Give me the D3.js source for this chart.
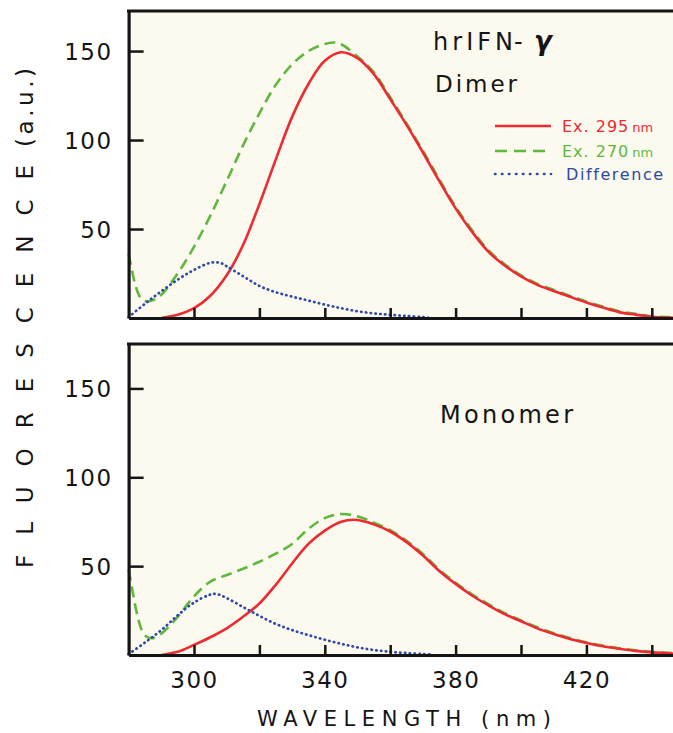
<!DOCTYPE html>
<html><head><meta charset="utf-8">
<script src="https://cdn.jsdelivr.net/npm/d3@7"></script>
<style>html,body{margin:0;padding:0;background:#fff;}svg{display:block;}</style>
</head><body>
<script>
// ---- data (wavelength nm, fluorescence a.u.) ----
const xTicks = [300, 320, 340, 360, 380, 400, 420, 440];
const xTickLabels = [300, 340, 380, 420];
const yTicks = [50, 100, 150];

const dimerEx295 = [[290,0],[295,1.8],[300,5.5],[305,12.5],[310,24],[315,41],[320,64],[325,89],[330,113],[335,131.5],[340,144.5],[345,149.3],[350,146],[355,137],[360,123],[365,108.5],[370,93],[375,77],[380,61.6],[385,48.5],[390,37.3],[395,29.5],[400,23.4],[405,18.6],[410,15.2],[415,11.9],[420,8.7],[425,5.9],[430,3.3],[435,1.9],[440,0.7],[445,0.2],[450,0]];
const dimerEx270 = [[280,36],[281,27],[282,19],[283,13.5],[284,10.5],[285,9.5],[286,9.3],[288,10.5],[290,13],[295,25],[300,40],[305,57.5],[310,77],[315,97],[320,115],[325,131],[330,142.5],[335,150],[340,154],[343,154.8],[345,153.8],[350,147],[355,138],[360,124],[365,109.3],[370,94],[375,78],[380,62.5],[385,49.4],[390,38.1],[395,30.2],[400,24],[405,19.2],[410,15.8],[415,12.4],[420,9.2],[425,6.4],[430,3.8],[435,2.3],[440,1.0],[445,0.5],[450,0.3]];
const dimerDiff = [[280,0.5],[285,8],[290,15],[295,21.5],[300,27],[305,31],[308,31],[310,29],[315,23.5],[320,18],[325,14.5],[330,12],[335,9.8],[340,7.5],[345,5.5],[350,3.8],[355,2.6],[360,1.8],[365,1.1],[370,0.5],[372,0]];

const monoEx295 = [[290,0],[295,1.8],[300,5.7],[305,10],[310,15],[315,21.5],[320,29],[325,39.5],[330,51.5],[335,62.5],[340,70],[345,75],[350,76],[355,73.5],[360,69.5],[365,63.5],[370,56],[375,47.3],[380,40],[385,33.5],[390,28],[395,23],[400,19],[405,15],[410,11.8],[415,9],[420,6.8],[425,4.9],[430,3.5],[435,2.3],[440,1.5],[445,1],[450,0.6]];
const monoEx270 = [[280,48],[281,38],[282,28],[283,20],[284,14],[285,11],[287,9.4],[290,12],[295,21.5],[300,33],[305,41.3],[310,45],[315,48.5],[320,52.5],[325,57],[330,62.5],[335,71],[340,77],[345,79.3],[350,78],[355,74.5],[360,70.2],[365,64.2],[370,56.8],[375,48],[380,40.7],[385,34.2],[390,28.6],[395,23.6],[400,19.5],[405,15.6],[410,12.3],[415,9.5],[420,7.2],[425,5.3],[430,3.8],[435,2.6],[440,1.8],[445,1.2],[450,0.8]];
const monoDiff = [[280,0.5],[285,7],[290,14],[295,22.3],[300,29.5],[305,34],[307,34.3],[310,32],[315,27],[320,22],[325,17.5],[330,14],[335,11.2],[340,8.6],[345,6.3],[350,4.3],[355,2.8],[360,1.8],[365,1.1],[370,0.6],[372,0.4]];

const legendLabels = ["Ex. 295", "Ex. 270", "Difference"];
const legendUnits = ["nm", "nm", ""];

// ---- drawing ----
const W = 673, H = 733;
const FONT = "DejaVu Sans";
const RED = "#ec2a30", GREEN = "#5fb83e", BLUE = "#2d4aa6", BG = "#fcf9ef", INK = "#151515";

const svg = d3.select("body").append("svg").attr("width", W).attr("height", H);

const x = d3.scaleLinear().domain([280, 450]).range([128.6, 684.5]);

const panels = [
  {top: 11, bottom: 318, ymax: 172.5, series: [dimerEx270, dimerEx295, dimerDiff], labels: false},
  {top: 344, bottom: 655, ymax: 175, series: [monoEx270, monoEx295, monoDiff], labels: true}
];

const styles = [
  {color: GREEN, width: 2.6, dash: "11,6", cap: "butt"},
  {color: RED, width: 2.6, dash: null, cap: "butt"},
  {color: BLUE, width: 2.7, dash: "0.4,4.4", cap: "round"}
];

panels.forEach(p => {
  const y = d3.scaleLinear().domain([0, p.ymax]).range([p.bottom, p.top]);
  const g = svg.append("g");
  g.append("rect").attr("x", 128).attr("y", p.top).attr("width", W - 128).attr("height", p.bottom - p.top).attr("fill", BG);

  const line = d3.line().x(d => x(d[0])).y(d => y(d[1])).curve(d3.curveCatmullRom.alpha(0.5));
  p.series.forEach((s, i) => {
    g.append("path").datum(s).attr("d", line).attr("fill", "none")
      .attr("stroke", styles[i].color).attr("stroke-width", styles[i].width)
      .attr("stroke-dasharray", styles[i].dash).attr("stroke-linecap", styles[i].cap);
  });

  // top border
  g.append("line").attr("x1", 127).attr("x2", W).attr("y1", p.top).attr("y2", p.top)
    .attr("stroke", INK).attr("stroke-width", 3);

  // x axis (inward ticks)
  const xa = d3.axisBottom(x).tickValues(xTicks).tickSize(-10).tickSizeOuter(0).tickPadding(16)
    .tickFormat(d => (p.labels && xTickLabels.includes(d)) ? d : "");
  const gx = g.append("g").attr("transform", `translate(0,${p.bottom})`).call(xa);
  gx.select(".domain").attr("stroke", INK).attr("stroke-width", 3);
  gx.selectAll(".tick line").attr("stroke", INK).attr("stroke-width", 2.5);
  gx.selectAll("text").attr("font-family", FONT).attr("font-size", 23).attr("fill", INK)
    .attr("letter-spacing", 1.5).attr("dy", "0.74em");

  // y axis (inward ticks)
  const ya = d3.axisLeft(y).tickValues(yTicks).tickSize(-15).tickSizeOuter(0).tickPadding(16);
  const gy = g.append("g").attr("transform", `translate(${x(280)},0)`).call(ya);
  gy.select(".domain").attr("stroke", INK).attr("stroke-width", 3.2);
  gy.selectAll(".tick line").attr("stroke", INK).attr("stroke-width", 2.5);
  gy.selectAll("text").attr("font-family", FONT).attr("font-size", 23).attr("fill", INK)
    .attr("letter-spacing", 1.5).attr("dy", "0.37em");
});

// panel annotations
svg.append("text").attr("x", 433).attr("y", 50).attr("font-family", FONT).attr("font-size", 24)
  .attr("fill", INK).attr("textLength", 80).attr("lengthAdjust", "spacing").text("hrIFN");
svg.append("text").attr("x", 514).attr("y", 50).attr("font-family", FONT).attr("font-size", 24)
  .attr("fill", INK).text("-");
svg.append("text").attr("x", 534).attr("y", 50).attr("font-family", FONT).attr("font-size", 26)
  .attr("font-weight", "bold").attr("font-style", "italic").attr("fill", INK).text("γ");
svg.append("text").attr("x", 435).attr("y", 92).attr("font-family", FONT).attr("font-size", 23)
  .attr("fill", INK).attr("textLength", 82).attr("lengthAdjust", "spacing").text("Dimer");
svg.append("text").attr("x", 440).attr("y", 423).attr("font-family", FONT).attr("font-size", 24)
  .attr("fill", INK).attr("textLength", 133).attr("lengthAdjust", "spacing").text("Monomer");

// legend
const legY = [126, 151, 174];
const legColors = [RED, GREEN, BLUE];
const legDash = [null, "12,7", "0.4,6.6"];
legendLabels.forEach((lab, i) => {
  svg.append("line").attr("x1", 495).attr("x2", 551).attr("y1", legY[i]).attr("y2", legY[i])
    .attr("stroke", legColors[i]).attr("stroke-width", 2.7)
    .attr("stroke-dasharray", legDash[i])
    .attr("stroke-linecap", i === 2 ? "round" : "butt");
  const t = svg.append("text").attr("x", i === 2 ? 566 : 562).attr("y", legY[i] + 6)
    .attr("font-family", FONT).attr("font-size", 16).attr("fill", legColors[i]);
  t.append("tspan").attr("letter-spacing", i === 2 ? 1.6 : 1).text(lab);
  if (legendUnits[i]) t.append("tspan").attr("dx", 3).attr("font-size", 13).text(legendUnits[i]);
});

// axis titles
svg.append("text").attr("transform", "translate(33,568) rotate(-90)")
  .attr("font-family", FONT).attr("font-size", 23).attr("fill", INK)
  .attr("textLength", 403).attr("lengthAdjust", "spacing").text("FLUORESCENCE");
svg.append("text").attr("transform", "translate(33,147) rotate(-90)")
  .attr("font-family", FONT).attr("font-size", 23).attr("fill", INK)
  .attr("textLength", 79).attr("lengthAdjust", "spacing").text("(a.u.)");
svg.append("text").attr("x", 257).attr("y", 726).attr("font-family", FONT).attr("font-size", 21)
  .attr("fill", INK).attr("textLength", 294).attr("lengthAdjust", "spacing").text("WAVELENGTH (nm)");
</script>
</body></html>
